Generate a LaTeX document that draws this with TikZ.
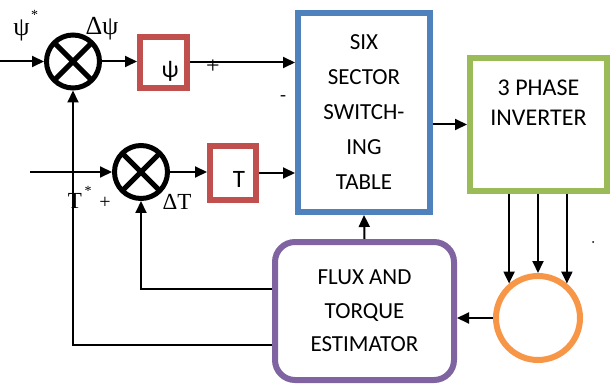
\documentclass[tikz,border=0pt]{standalone}
\usepackage{fontspec}
\setmainfont{Liberation Serif}
\newfontfamily\boxfont{Carlito}
\usetikzlibrary{arrows.meta}
\definecolor{cred}{HTML}{C0504D}
\definecolor{cblue}{HTML}{4F81BD}
\definecolor{cgreen}{HTML}{9BBB59}
\definecolor{cpurple}{HTML}{8064A2}
\definecolor{corange}{HTML}{F79646}
\begin{document}
\begin{tikzpicture}[x=1pt,y=-1pt,
  sumnode/.style={circle,draw,line width=5pt,minimum size=53pt,inner sep=0pt,
    path picture={\draw[line width=5pt]
      (path picture bounding box.north west)--(path picture bounding box.south east)
      (path picture bounding box.north east)--(path picture bounding box.south west);}},
  ctrlbox/.style={draw=cred,line width=6pt,minimum width=47pt,minimum height=51pt,inner sep=0pt},
  conn/.style={line width=2pt,-{Triangle[length=12pt,width=11pt]}},
  wire/.style={line width=2pt},
  boxtext/.style={font=\boxfont\fontsize{23}{35}\selectfont,align=center,text=black},
  greek/.style={font=\fontsize{26}{28}\selectfont,inner sep=0pt}
]
\useasboundingbox (0,0) rectangle (611,385);

% summing junctions and controllers
\node[sumnode] (s1) at (73,61.5) {};
\node[ctrlbox] (pb) at (163.5,62.5) {};
\node[font=\boxfont\fontsize{24}{26}\selectfont,inner sep=0pt] (pbt) at (170,71) {ψ};
\node[sumnode] (s2) at (141,172) {};
\node[ctrlbox,minimum width=46pt,minimum height=54pt] (tb) at (233,173) {};
\node[font=\boxfont\fontsize{25}{28}\selectfont,inner sep=0pt] (tbt) at (239,179) {T};

% main blocks
\node[draw=cblue,line width=6pt,minimum width=132pt,minimum height=199pt,boxtext] (six) at (364,112.5)
  {SIX\\SECTOR\\SWITCH-\\ING\\TABLE};
\node[draw=cgreen,line width=6pt,minimum width=137pt,minimum height=133pt] (inv) at (538.5,124.5) {};
\node[boxtext,font=\boxfont\fontsize{24}{30}\selectfont] (invt) at (538.5,103) {3 PHASE\\INVERTER};
\node[draw=cpurple,line width=6pt,rounded corners=20pt,minimum width=179pt,minimum height=138pt,
  boxtext,font=\boxfont\fontsize{23}{33.5}\selectfont] (est) at (364.5,311) {FLUX AND\\TORQUE\\ESTIMATOR};
\node[circle,draw=corange,line width=6pt,minimum size=84pt,inner sep=0pt] (mot) at (538,318) {};

% inputs
\coordinate (inpsi) at (0,61.5);
\coordinate (intq) at (30,172);
\draw[conn] (inpsi) -- (s1.west);
\draw[conn] (intq) -- (s2.west);

% forward path
\draw[conn] (s1.east) -- (s1.east -| pb.west);
\draw[conn] (pb.east) -- (pb.east -| six.west);
\draw[conn] (s2.east) -- (s2.east -| tb.west);
\draw[conn] (tb.east) -- (tb.east -| six.west);
\draw[conn] (inv.west -| six.east) -- (inv.west);
\draw[conn] (est.north) -- (six.south);

% inverter to motor
\draw[conn] (inv.south -| mot.130) -- (mot.130);
\draw[conn] (inv.south -| mot.north) -- (mot.north);
\draw[conn] (inv.south -| mot.50) -- (mot.50);
\draw[conn] (mot.west) -- (mot.west -| est.east);

% feedback
\draw[conn] ([yshift=22pt]est.west) -| (s2.south);
\draw[conn] ([yshift=-34pt]est.west) -| (s1.south);

% labels
\node[greek] (lpsi) at (21.5,30) {ψ};
\node[greek,font=\fontsize{14}{16}\selectfont] (lpsis) at (34.5,15) {*};
\node[greek] (ldpsi) at (102,29) {Δψ};
\node[greek,font=\fontsize{23}{26}\selectfont] (ltq) at (75,201) {T};
\node[greek,font=\fontsize{14}{16}\selectfont] (ltqs) at (88,191) {*};
\node[greek,font=\fontsize{20}{22}\selectfont] (ltqp) at (105,203) {+};
\node[greek,font=\fontsize{23}{26}\selectfont] (ldt) at (177,202) {ΔT};
\node[greek,font=\fontsize{24}{26}\selectfont] (lplus) at (213,66.5) {+};
\node[greek,font=\fontsize{18}{20}\selectfont] (lminus) at (283,98) {-};
\fill (593,242) circle (1pt);
\end{tikzpicture}
\end{document}
